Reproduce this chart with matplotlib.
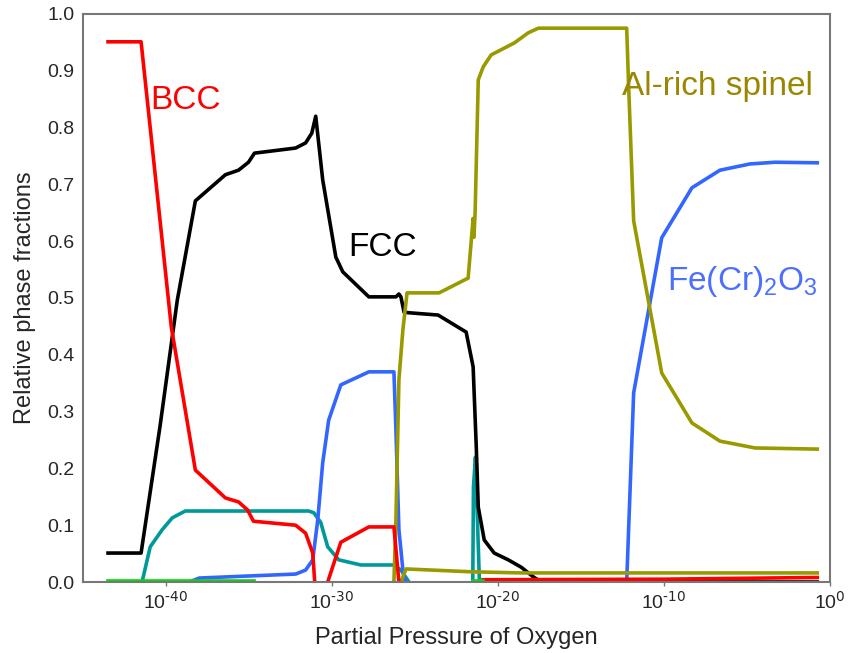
import matplotlib
matplotlib.use("Agg")
import matplotlib.pyplot as plt
import numpy as np

plt.rcParams['font.family'] = ['Liberation Sans', 'DejaVu Sans']
plt.rcParams['mathtext.default'] = 'regular'

# log10 of oxygen partial pressure, and phase fraction, for each phase
bcc_logp = [-43.49, -41.50, -40.65, -39.68, -38.23, -36.42, -35.63, -35.09, -34.73,
            -32.19, -31.59, -31.16, -31.04, np.nan,
            -30.26, -29.47, -27.78, -26.27, -25.97, np.nan,
            -20.9, -10.0, -0.77]
bcc_frac = [0.951, 0.951, 0.717, 0.449, 0.197, 0.148, 0.141, 0.127, 0.107,
            0.100, 0.086, 0.051, 0.0, np.nan,
            0.0, 0.070, 0.097, 0.097, 0.0, np.nan,
            0.004, 0.005, 0.008]

fcc_logp = [-43.49, -41.50, -40.35, -39.32, -38.23, -36.42, -35.63, -35.03, -34.67,
            -32.19, -31.59, -31.22, -30.98, -30.56, -29.77, -29.35, -27.78, -26.15,
            -25.97, -25.85, -25.66, -25.36, -23.61, -21.92, -21.50, -21.31, -21.19,
            -20.83, -20.23, -19.38, -18.60, -17.87, -17.39, -0.77]
fcc_frac = [0.051, 0.051, 0.276, 0.496, 0.671, 0.717, 0.725, 0.739, 0.755,
            0.764, 0.773, 0.790, 0.820, 0.708, 0.572, 0.546, 0.502, 0.502,
            0.507, 0.502, 0.475, 0.474, 0.470, 0.440, 0.379, 0.238, 0.132,
            0.074, 0.051, 0.039, 0.026, 0.009, 0.0, 0.0]

teal_logp = [-41.44, -40.95, -40.23, -39.62, -38.84, -31.40, -31.10, -30.68, -30.26,
             -29.59, -28.26, -26.27, -25.85, -25.36, np.nan,
             -21.52, -21.48, -21.36, -21.12]
teal_frac = [0.0, 0.062, 0.092, 0.113, 0.125, 0.125, 0.122, 0.105, 0.062,
             0.039, 0.030, 0.030, 0.021, 0.0, np.nan,
             0.0, 0.167, 0.220, 0.0]

oxide_logp = [-38.6, -38.0, -34.7, -32.19, -31.59, -31.16, -30.86, -30.56, -30.20,
              -29.47, -27.78, -26.27, -26.15, -25.97, -25.73, -25.60, np.nan,
              -12.25, -11.83, -10.14, -8.32, -6.63, -4.82, -3.31, -0.77]
oxide_frac = [0.0, 0.007, 0.011, 0.014, 0.021, 0.039, 0.109, 0.210, 0.285,
              0.347, 0.370, 0.370, 0.268, 0.092, 0.021, 0.0, np.nan,
              0.0, 0.333, 0.606, 0.694, 0.725, 0.736, 0.739, 0.738]

spinel_logp = [-26.27, -26.15, -25.97, -25.73, -25.48, -23.55, -21.80, -21.50, -21.45,
               -21.38, -21.19, -20.89, -20.41, -19.02, -18.17, -17.57, -12.25, -12.13,
               -11.83, -10.14, -8.32, -6.63, -4.52, -0.77]
spinel_frac = [0.0, 0.109, 0.356, 0.444, 0.509, 0.509, 0.535, 0.640, 0.607,
               0.650, 0.884, 0.907, 0.928, 0.949, 0.967, 0.975, 0.975, 0.871,
               0.636, 0.368, 0.280, 0.248, 0.236, 0.234]

spinel2_logp = [-25.85, -25.54, -21.62, -18.60, -0.77]
spinel2_frac = [0.0, 0.023, 0.018, 0.016, 0.016]

green_logp = [-43.49, -34.70, np.nan, -21.50, -20.90]
green_frac = [0.002, 0.002, np.nan, 0.002, 0.002]

xtick_exp = ['-40', '-30', '-20', '-10', '0']

RED = '#ff0000'
OLIVE = '#999900'
BLUE = '#3366ff'
TEAL = '#009999'
GREEN = '#00dd00'

fig = plt.figure(figsize=(8.59, 6.53), dpi=100)
ax = fig.add_axes([0.0966, 0.1087, 0.8697, 0.8699])

lw = 2.6
ax.plot(10.0 ** np.array(teal_logp), teal_frac, color=TEAL, lw=lw)
ax.plot(10.0 ** np.array(oxide_logp), oxide_frac, color=BLUE, lw=lw)
ax.plot(10.0 ** np.array(fcc_logp), fcc_frac, color='black', lw=lw)
ax.plot(10.0 ** np.array(spinel2_logp), spinel2_frac, color=OLIVE, lw=lw)
ax.plot(10.0 ** np.array(spinel_logp), spinel_frac, color=OLIVE, lw=lw)
ax.plot(10.0 ** np.array(bcc_logp), bcc_frac, color=RED, lw=lw)
ax.plot(10.0 ** np.array(green_logp), green_frac, color=GREEN, lw=lw)

ax.set_xscale('log')
ax.set_xlim(1e-45, 1e0)
ax.set_ylim(0, 1.0)

ax.set_xticks([10.0 ** float(e) for e in xtick_exp])
# plain hyphen in the exponent rather than the math minus sign
ax.set_xticklabels([r'10$^{\text{%s}}$' % e for e in xtick_exp])
ax.xaxis.set_minor_locator(matplotlib.ticker.NullLocator())
ax.set_yticks(np.arange(0, 1.01, 0.1))
ax.set_yticklabels(['%.1f' % v for v in np.arange(0, 1.01, 0.1)])

ax.tick_params(axis='both', labelsize=14, colors='#262626')
ax.tick_params(axis='x', length=3, width=1, color='#777777', pad=4)
ax.tick_params(axis='y', length=0, pad=6)
for s in ax.spines.values():
    s.set_color('#777777')
    s.set_linewidth(1.5)

ax.set_xlabel('Partial Pressure of Oxygen', fontsize=17, color='#262626', labelpad=10)
ax.set_ylabel('Relative phase fractions', fontsize=17, color='#262626', labelpad=8)

ax.text(10 ** -40.95, 0.833, 'BCC', color=RED, fontsize=24, ha='left', va='baseline')
ax.text(10 ** -29.05, 0.574, 'FCC', color='black', fontsize=24, ha='left', va='baseline')
ax.text(10 ** -12.55, 0.857, 'Al-rich spinel', color='#9a8600', fontsize=24, ha='left', va='baseline')
ax.text(10 ** -9.83, 0.514, 'Fe(Cr)$_2$O$_3$', color='#4d6fff', fontsize=24, ha='left', va='baseline')

fig.savefig('out.png', dpi=100)
